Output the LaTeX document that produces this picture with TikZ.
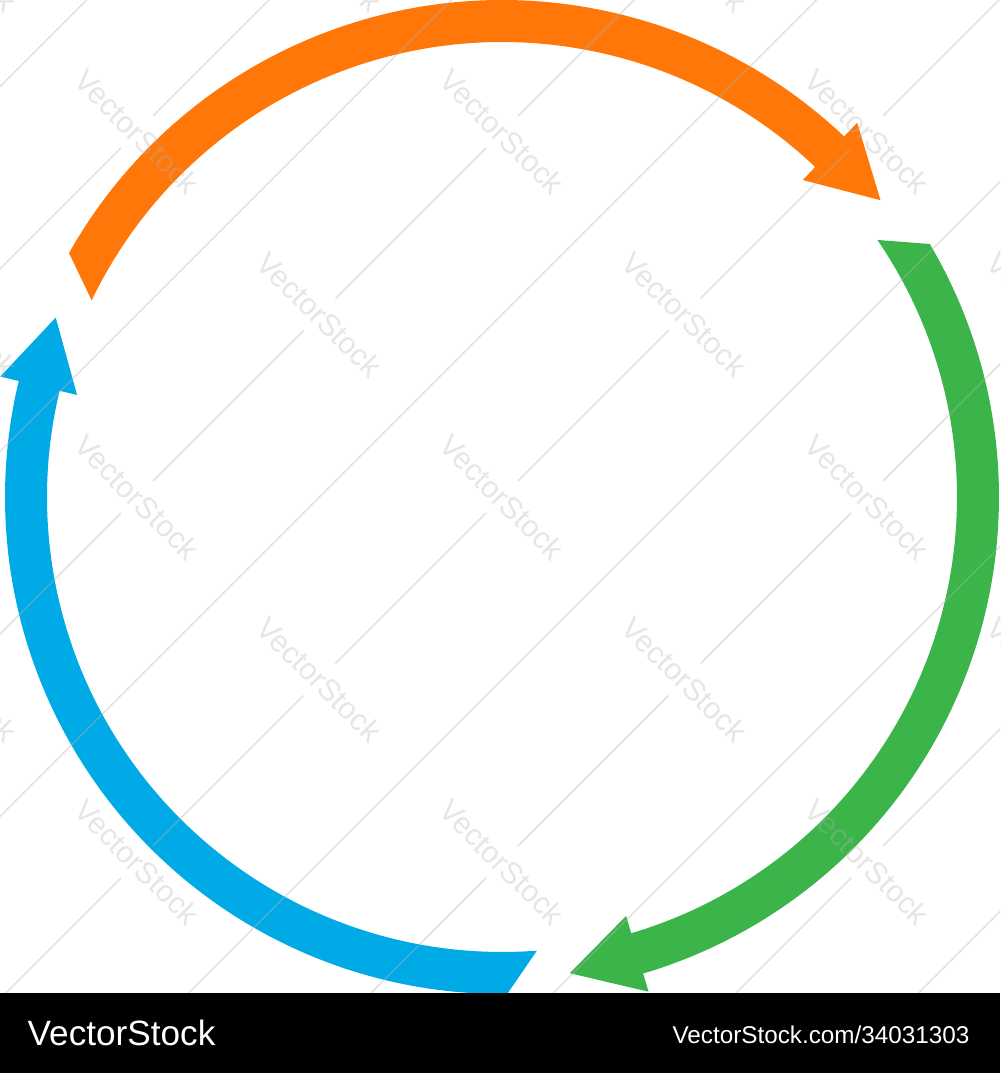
\documentclass[tikz,border=0pt]{standalone}
\usepackage{fontspec}
\setmainfont{Liberation Sans}
\definecolor{arcorange}{RGB}{255,119,8}
\definecolor{arcgreen}{RGB}{59,180,74}
\definecolor{arcblue}{RGB}{0,170,231}

\begin{document}
\begin{tikzpicture}[x=0.01cm,y=0.01cm,
	wm/.style={font=\fontsize{8.6}{10}\selectfont, text=black!30, opacity=0.33, rotate=-45, inner sep=0pt},
	ln/.style={draw=black!30, opacity=0.45, line width=0.35pt},
	bartext/.style={text=white, inner sep=0pt}]
	\useasboundingbox (-502,-576) rectangle (498,497);
	%arrows
	\foreach \a/\col in {0/arcorange,-120/arcgreen,-240/arcblue}
		\fill[\col] (150.6+\a:497) arc[start angle=150.6+\a, end angle=46.5+\a, radius=497]
			-- (46.5+\a:516) -- (38.1+\a:481) -- (46.5+\a:437) -- (46.5+\a:455)
			arc[start angle=46.5+\a, end angle=154.4+\a, radius=455] -- cycle;
	%watermark
	\begin{scope}
		\clip (-502,-496) rectangle (498,497);
		% lines between the marks
		\foreach \m in {-5,-3,-1,1,3,5}
			\draw[ln] (-1200,-1200-182.5*\m) -- (1200,1200-182.5*\m);
		% lines through the marks, broken at each mark
		\foreach \i in {-4,...,3}
			\foreach \j in {-4,...,3}{
				\ifodd\numexpr\i+\j\relax\else
					\draw[ln] (182.5*\i+16,182.5*\j+16) -- (182.5*\i+166.5,182.5*\j+166.5);
				\fi}
		\foreach \i in {-3,...,3}
			\foreach \j in {-2,...,3}{
				\ifodd\numexpr\i+\j\relax\else
					\node[wm] (wm\i\j) at (182.5*\i,182.5*\j) {VectorStock};
				\fi}
	\end{scope}
	%bar
	\fill[black] (-502,-576) rectangle (498,-495.7);
	\node[bartext, anchor=base west, font=\fontsize{10}{12}\selectfont] (logo) at (-475,-548) {VectorStock};
	\node[bartext, anchor=base east, font=\fontsize{6.9}{8}\selectfont] (imgid) at (468,-546) {VectorStock.com/34031303};
\end{tikzpicture}
\end{document}
